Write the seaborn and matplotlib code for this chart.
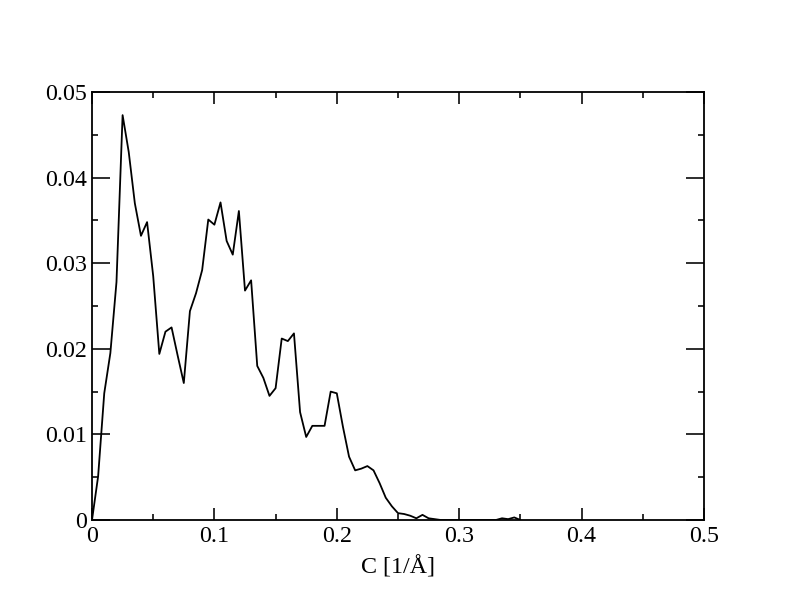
import numpy as np
import pandas as pd
import seaborn as sns
import matplotlib.pyplot as plt
from matplotlib.ticker import MultipleLocator

# curve, step 0.005
c_vals = [0.000, 0.005, 0.010, 0.015, 0.020, 0.025, 0.030, 0.035, 0.040, 0.045,
          0.050, 0.055, 0.060, 0.065, 0.070, 0.075, 0.080, 0.085, 0.090, 0.095,
          0.100, 0.105, 0.110, 0.115, 0.120, 0.125, 0.130, 0.135, 0.140, 0.145,
          0.150, 0.155, 0.160, 0.165, 0.170, 0.175, 0.180, 0.185, 0.190, 0.195,
          0.200, 0.205, 0.210, 0.215, 0.220, 0.225, 0.230, 0.235, 0.240, 0.245,
          0.250, 0.255, 0.260, 0.265, 0.270, 0.275, 0.280, 0.285, 0.290, 0.295,
          0.300, 0.305, 0.310, 0.315, 0.320, 0.325, 0.330, 0.335, 0.340, 0.345,
          0.350]
p_vals = [0.0000, 0.0051, 0.0148, 0.0195, 0.0278, 0.0473, 0.0430, 0.0370, 0.0332, 0.0348,
          0.0285, 0.0194, 0.0220, 0.0225, 0.0192, 0.0160, 0.0244, 0.0265, 0.0292, 0.0351,
          0.0345, 0.0371, 0.0326, 0.0310, 0.0361, 0.0268, 0.0280, 0.0180, 0.0166, 0.0145,
          0.0154, 0.0212, 0.0209, 0.0218, 0.0126, 0.0097, 0.0110, 0.0110, 0.0110, 0.0150,
          0.0148, 0.0109, 0.0074, 0.0058, 0.0060, 0.0063, 0.0058, 0.0043, 0.0026, 0.0016,
          0.0008, 0.0007, 0.0005, 0.0002, 0.0006, 0.0002, 0.0001, 0.0000, 0.0000, 0.0000,
          0.0000, 0.0000, 0.0000, 0.0000, 0.0000, 0.0000, 0.0000, 0.0002, 0.0001, 0.0003,
          0.0000]

x_ticks = [0, 0.1, 0.2, 0.3, 0.4, 0.5]
x_labels = ["0", "0.1", "0.2", "0.3", "0.4", "0.5"]
y_ticks = [0, 0.01, 0.02, 0.03, 0.04, 0.05]
y_labels = ["0", "0.01", "0.02", "0.03", "0.04", "0.05"]

df = pd.DataFrame({"C": c_vals, "P": p_vals})

sns.set_style("ticks")
plt.rcParams["font.family"] = ["Liberation Serif", "DejaVu Serif"]

fig = plt.figure(figsize=(11, 8.5), dpi=72)
ax = fig.add_axes([92 / 792, 92 / 612, 612 / 792, 428 / 612])

sns.lineplot(data=df, x="C", y="P", color="black", linewidth=1.8, ax=ax)

ax.set_xlim(0, 0.5)
ax.set_ylim(0, 0.05)
ax.set_xticks(x_ticks)
ax.set_xticklabels(x_labels)
ax.set_yticks(y_ticks)
ax.set_yticklabels(y_labels)
ax.xaxis.set_minor_locator(MultipleLocator(0.05))
ax.yaxis.set_minor_locator(MultipleLocator(0.005))

ax.tick_params(axis="both", which="both", direction="in", top=True, right=True,
               colors="black", labelsize=24, width=1.6)
ax.tick_params(axis="x", which="major", length=12, pad=6)
ax.tick_params(axis="x", which="minor", length=6)
ax.tick_params(axis="y", which="major", length=18, pad=5)
ax.tick_params(axis="y", which="minor", length=6)
for s in ax.spines.values():
    s.set_linewidth(1.8)
    s.set_color("black")

ax.set_xlabel("C [1/Å]", fontsize=24, color="black", labelpad=9)
ax.set_ylabel("")

plt.savefig("out.png", dpi=72)
